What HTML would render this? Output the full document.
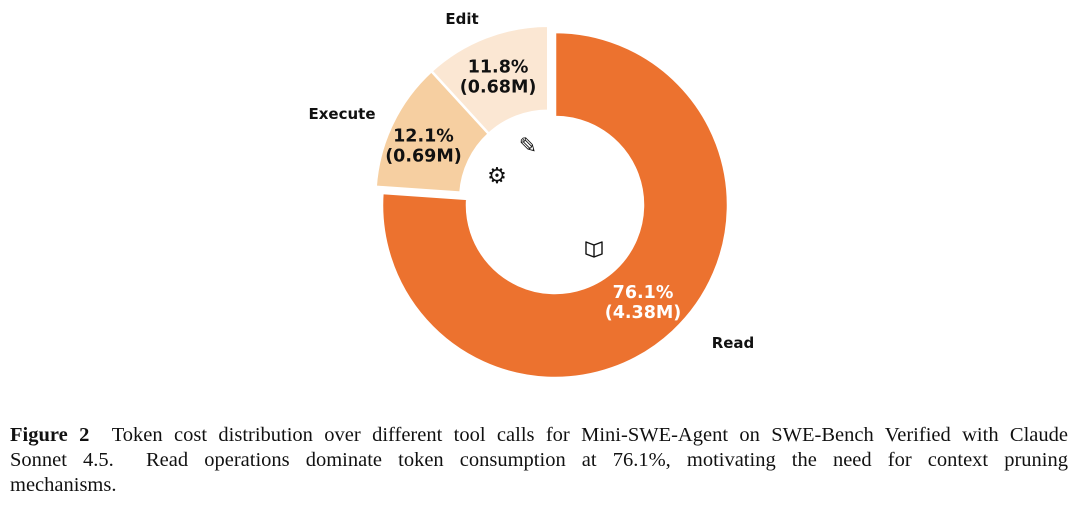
<!DOCTYPE html>
<html><head><meta charset="utf-8"><style>
html,body{margin:0;padding:0;background:#fff;width:1080px;height:505px;overflow:hidden}
svg{position:absolute;left:0;top:0}
.cap{position:absolute;left:10px;width:1058px;font-family:"Liberation Serif",serif;font-size:20.5px;color:#111;white-space:nowrap}
.j{text-align:justify;text-align-last:justify;white-space:normal}
</style></head><body>
<svg id="chart" width="1080" height="420"></svg>
<div class="cap j" style="top:424px"><b>Figure 2</b>&nbsp; Token cost distribution over different tool calls for Mini-SWE-Agent on SWE-Bench Verified with Claude</div>
<div class="cap j" style="top:449px">Sonnet 4.5.&nbsp; Read operations dominate token consumption at 76.1%, motivating the need for context pruning</div>
<div class="cap" style="top:474px">mechanisms.</div>
<script>
const categories=["Read","Execute","Edit"];
const shares=[76.1,12.1,11.8];
const tokens=["4.38M","0.69M","0.68M"];
const explode=[0,1,1];
const colors=["#EC722F","#F6CFA1","#FBE7D3"];
const NS="http://www.w3.org/2000/svg";
const svg=document.getElementById("chart");
const cx=555,cy=205,R=173,r=88,off=9;
const total=shares.reduce((a,b)=>a+b,0);
function pt(a,rad){const t=a*Math.PI/180;return [cx+rad*Math.cos(t),cy-rad*Math.sin(t)];}
let start=90;
const labelPos={Read:[733,348],Execute:[342,119],Edit:[462,24]};
categories.forEach((c,i)=>{
  const sweep=shares[i]/total*360;
  const a0=start,a1=start-sweep;start=a1;
  const dx=explode[i]?-off*0.75:0,dy=explode[i]?-off*0.7:0;
  const g=document.createElementNS(NS,"g");
  g.setAttribute("transform",`translate(${dx},${dy})`);
  
  
  const [x0,y0]=pt(a0,R),[x1,y1]=pt(a1,R),[x2,y2]=pt(a1,r),[x3,y3]=pt(a0,r);
  const large=sweep>180?1:0;
  const p=document.createElementNS(NS,"path");
  p.setAttribute("d",`M${x0},${y0} A${R},${R} 0 ${large} 1 ${x1},${y1} L${x2},${y2} A${r},${r} 0 ${large} 0 ${x3},${y3}Z`);
  p.setAttribute("fill",colors[i]);p.setAttribute("stroke","#fff");p.setAttribute("stroke-width","2.5");
  
  
  g.appendChild(p);
  const mid=(a0+a1)/2;
  let [lx,ly]=pt(mid,(R+r)/2+ (i==0?0:8));
  if(i==0){lx=643;ly=295;}
  const t=document.createElementNS(NS,"text");
  t.setAttribute("x",lx);t.setAttribute("y",ly+3);t.setAttribute("text-anchor","middle");
  t.setAttribute("font-family","DejaVu Sans, sans-serif");t.setAttribute("font-weight","bold");t.setAttribute("font-size","17.5");
  t.setAttribute("fill",i==0?"#fff":"#111");
  
  
  const s1=document.createElementNS(NS,"tspan");s1.setAttribute("x",lx);s1.setAttribute("dy","0");s1.textContent=shares[i].toFixed(1)+"%";
  const s2=document.createElementNS(NS,"tspan");s2.setAttribute("x",lx);s2.setAttribute("dy","20");s2.textContent="("+tokens[i]+")";
  t.appendChild(s1);t.appendChild(s2);g.appendChild(t);
  svg.appendChild(g);
  const n=document.createElementNS(NS,"text");
  n.setAttribute("x",labelPos[c][0]);n.setAttribute("y",labelPos[c][1]);n.setAttribute("text-anchor","middle");
  n.setAttribute("font-family","DejaVu Sans, sans-serif");n.setAttribute("font-weight","bold");n.setAttribute("font-size","15");n.setAttribute("fill","#111");
  n.textContent=c;
  
  
  svg.appendChild(n);
});
const icons=[["✎",528,153,"edit-icon"],["⚙",497,183,"execute-icon"]];
icons.forEach(ic=>{
  const t=document.createElementNS(NS,"text");
  t.setAttribute("x",ic[1]);t.setAttribute("y",ic[2]);t.setAttribute("text-anchor","middle");
  t.setAttribute("font-family","DejaVu Sans, sans-serif");t.setAttribute("font-size","22");t.setAttribute("fill","#111");
  t.textContent=ic[0];
  
  
  svg.appendChild(t);
});
const book=document.createElementNS(NS,"path");
book.setAttribute("d","M586,242 L594,245 L602,242 L602,254 L594,257 L586,254 Z M594,245 L594,257");
book.setAttribute("fill","none");book.setAttribute("stroke","#111");book.setAttribute("stroke-width","1.4");book.setAttribute("stroke-linejoin","round");


svg.appendChild(book);
</script>
</body></html>
